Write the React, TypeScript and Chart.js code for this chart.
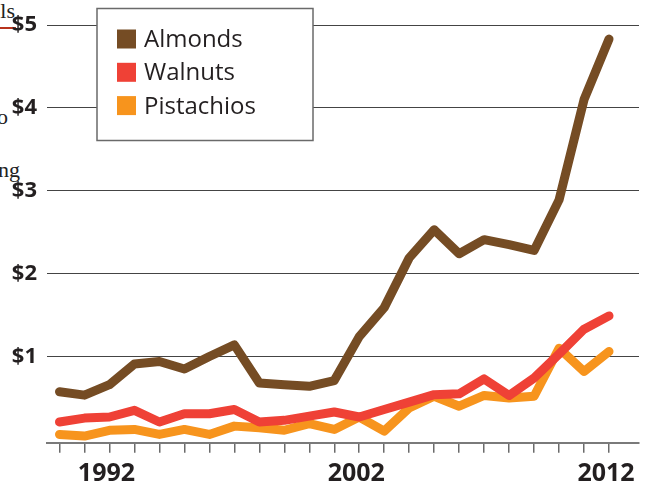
import React, { useEffect, useRef } from "react";
import { Chart, registerables } from "chart.js";

Chart.register(...registerables);

// ---- Data ----
const years = [
  1990, 1991, 1992, 1993, 1994, 1995, 1996, 1997, 1998, 1999, 2000, 2001,
  2002, 2003, 2004, 2005, 2006, 2007, 2008, 2009, 2010, 2011, 2012,
];
const almonds = [
  0.575, 0.534, 0.66, 0.91, 0.94, 0.85, 1.0, 1.14, 0.68, 0.66, 0.64, 0.71,
  1.24, 1.59, 2.19, 2.53, 2.24, 2.41, 2.35, 2.28, 2.89, 4.1, 4.83,
];
const walnuts = [
  0.21, 0.257, 0.27, 0.35, 0.21, 0.31, 0.31, 0.36, 0.21, 0.23, 0.28, 0.33,
  0.27, 0.36, 0.45, 0.54, 0.55, 0.73, 0.53, 0.74, 1.03, 1.33, 1.49,
];
const pistachios = [
  0.06, 0.04, 0.11, 0.12, 0.06, 0.12, 0.06, 0.16, 0.14, 0.11, 0.19, 0.12,
  0.27, 0.1, 0.38, 0.52, 0.4, 0.53, 0.5, 0.52, 1.1, 0.82, 1.06,
];
const labeledYears = [1992, 2002, 2012];
const yTicks = [1, 2, 3, 4, 5];
const seriesNames = ["Almonds", "Walnuts", "Pistachios"];
const seriesColors = ["#754C24", "#EF4136", "#F7941D"];
const seriesValues = [almonds, walnuts, pistachios];

const TEXT = "#231F20";

const boxLegend = {
  id: "boxLegend",
  beforeDatasetsDraw(chart: any) {
    const { ctx, chartArea } = chart;
    const bx = chartArea.left + 50;
    const by = chartArea.top - 16.5;
    const bw = 216;
    const bh = 132;
    ctx.save();
    ctx.fillStyle = "#ffffff";
    ctx.fillRect(bx, by, bw, bh);
    ctx.strokeStyle = "#6a6a6a";
    ctx.lineWidth = 1.5;
    ctx.strokeRect(bx, by, bw, bh);
    ctx.font = '24px "Open Sans"';
    ctx.textBaseline = "alphabetic";
    ctx.textAlign = "left";
    seriesNames.forEach((name, i) => {
      const rowY = by + 21 + i * 33.3;
      ctx.fillStyle = seriesColors[i];
      ctx.fillRect(bx + 20, rowY, 19, 19);
      ctx.fillStyle = TEXT;
      ctx.fillText(name, bx + 47, rowY + 17.5);
    });
    ctx.restore();
  },
};

export default function App() {
  const canvasRef = useRef<HTMLCanvasElement | null>(null);

  useEffect(() => {
    if (!canvasRef.current) return;
    const chart = new Chart(canvasRef.current, {
      type: "line",
      data: {
        datasets: seriesNames.map((name, i) => ({
          label: name,
          data: years.map((x, j) => ({ x, y: seriesValues[i][j] })),
          borderColor: seriesColors[i],
          backgroundColor: seriesColors[i],
          borderWidth: 9,
          borderCapStyle: "round" as const,
          borderJoinStyle: "round" as const,
          pointRadius: 0,
          pointHoverRadius: 0,
          tension: 0,
          fill: false,
        })),
      },
      options: {
        animation: false,
        responsive: false,
        maintainAspectRatio: false,
        layout: { padding: { top: 25, right: 15, left: 0, bottom: 0 } },
        plugins: {
          legend: { display: false },
          tooltip: { enabled: false },
          title: { display: false },
        },
        scales: {
          x: {
            type: "linear",
            min: 1989.5,
            max: 2013.2,
            afterBuildTicks: (s: any) => {
              s.ticks = years.map((v) => ({ value: v }));
            },
            afterFit: (s: any) => {
              s.height = 44.3;
            },
            ticks: {
              autoSkip: false,
              maxRotation: 0,
              minRotation: 0,
              padding: 6,
              labelOffset: -3,
              color: TEXT,
              font: { family: '"Open Sans"', weight: "bold", size: 25 },
              callback: (v: any) =>
                labeledYears.includes(Number(v)) ? String(v) : "",
            },
            grid: {
              drawOnChartArea: false,
              drawTicks: true,
              tickLength: 10,
              color: "#6b6b6b",
              lineWidth: 1.5,
            },
            border: { display: true, color: "#7a7a7a", width: 2 },
          },
          y: {
            type: "linear",
            min: -0.04,
            max: 5,
            afterBuildTicks: (s: any) => {
              s.ticks = yTicks.map((v) => ({ value: v }));
            },
            afterFit: (s: any) => {
              s.width = 47;
            },
            ticks: {
              padding: 10,
              color: TEXT,
              font: { family: '"Open Sans"', weight: "bold", size: 22 },
              callback: (v: any) => "$" + v,
            },
            grid: { color: "#444444", lineWidth: 1, drawTicks: false },
            border: { display: false },
          },
        },
      },
      plugins: [boxLegend],
    });
    return () => chart.destroy();
  }, []);

  const serif: React.CSSProperties = {
    position: "absolute",
    fontFamily: '"Liberation Serif", serif',
    fontSize: 22,
    lineHeight: "22px",
    color: "#222",
    whiteSpace: "nowrap",
  };

  return (
    <div
      style={{
        position: "absolute",
        left: 0,
        top: 0,
        width: 654,
        height: 487,
        background: "#fff",
        overflow: "hidden",
      }}
    >
      <span style={{ ...serif, right: 639, top: 0 }}>ls</span>
      <div
        style={{
          position: "absolute",
          left: 0,
          top: 27,
          width: 16,
          height: 2,
          background: "#b8321c",
        }}
      />
      <span style={{ ...serif, right: 646, top: 106 }}>o</span>
      <span style={{ ...serif, right: 634, top: 159 }}>ng</span>
      <canvas
        ref={canvasRef}
        width={654}
        height={487}
        style={{ position: "absolute", left: 0, top: 0, display: "block" }}
      />
    </div>
  );
}
